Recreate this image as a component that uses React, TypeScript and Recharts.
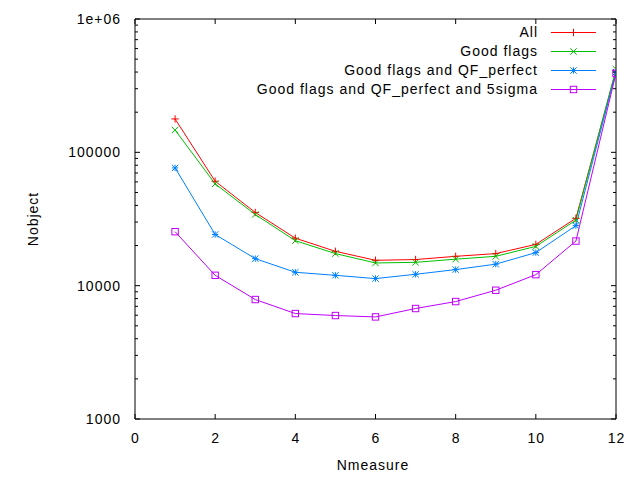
import React from "react";
import { Legend, Line, LineChart, XAxis, YAxis } from "recharts";

// ---- data ----
const nmeasure = [1, 2, 3, 4, 5, 6, 7, 8, 9, 10, 11, 12];
const allObjects = [178000, 60700, 35400, 22700, 18100, 15500, 15700, 16600, 17400, 20400, 32000, 410000];
const goodFlags = [147000, 58000, 34200, 21750, 17400, 14800, 14960, 15800, 16600, 19700, 31000, 420000];
const qfPerfect = [76400, 24200, 15950, 12600, 11960, 11300, 12170, 13200, 14500, 17700, 28200, 400000];
const fiveSigma = [25400, 11960, 7870, 6180, 5970, 5830, 6740, 7600, 9240, 12100, 21600, 392000];

const xTicks = [0, 2, 4, 6, 8, 10, 12];
const yMajor = [1000, 10000, 100000, 1000000];
const yMinor = [2, 3, 4, 5, 6, 7, 8, 9].flatMap((m) => [m * 1000, m * 10000, m * 100000]);
const yTicks = [...yMajor, ...yMinor].sort((a, b) => a - b);

const series = [
  { key: "all", name: "All", color: "#ff0000", marker: "plus" },
  { key: "good", name: "Good flags", color: "#00c000", marker: "cross" },
  { key: "qf", name: "Good flags and QF_perfect", color: "#0080ff", marker: "star" },
  { key: "sigma", name: "Good flags and QF_perfect and 5sigma", color: "#c000ff", marker: "square" },
];

const data = nmeasure.map((n, i) => ({
  n,
  all: allObjects[i],
  good: goodFlags[i],
  qf: qfPerfect[i],
  sigma: fiveSigma[i],
}));

const FONT = "'Liberation Sans', Arial, sans-serif";
const MAJOR = 5;
const MINOR = 3;

// gnuplot's png text: small glyphs, loose spacing
const textProps = { fontFamily: FONT, fontSize: 14, letterSpacing: 1, fill: "#000" };

function Marker({ kind, cx, cy, color }: { kind: string; cx: number; cy: number; color: string }) {
  const r = 3.2;
  const p = { stroke: color, strokeWidth: 1, fill: "none" };
  if (kind === "plus") {
    return (
      <g>
        <line x1={cx - r - 0.5} x2={cx + r + 0.5} y1={cy} y2={cy} {...p} />
        <line x1={cx} x2={cx} y1={cy - r - 0.5} y2={cy + r + 0.5} {...p} />
      </g>
    );
  }
  if (kind === "cross") {
    return (
      <g>
        <line x1={cx - r} x2={cx + r} y1={cy - r} y2={cy + r} {...p} />
        <line x1={cx - r} x2={cx + r} y1={cy + r} y2={cy - r} {...p} />
      </g>
    );
  }
  if (kind === "star") {
    return (
      <g>
        <line x1={cx - r} x2={cx + r} y1={cy} y2={cy} {...p} />
        <line x1={cx} x2={cx} y1={cy - r} y2={cy + r} {...p} />
        <line x1={cx - r} x2={cx + r} y1={cy - r} y2={cy + r} {...p} />
        <line x1={cx - r} x2={cx + r} y1={cy + r} y2={cy - r} {...p} />
      </g>
    );
  }
  return <rect x={cx - r} y={cy - r} width={2 * r} height={2 * r} {...p} />;
}

const isMajor = (v: number) => yMajor.includes(v);
const fmtY = (v: number) => (v === 1000000 ? "1e+06" : String(v));

// tick renderers: ticks point inward, like gnuplot
function LeftTick({ x, y, payload }: any) {
  const len = isMajor(payload.value) ? MAJOR : MINOR;
  return (
    <g>
      <line x1={x} x2={x + len} y1={y} y2={y} stroke="#000" />
      {isMajor(payload.value) && (
        <text x={x - 14} y={y} dy="0.35em" textAnchor="end" {...textProps}>
          {fmtY(payload.value)}
        </text>
      )}
    </g>
  );
}

function RightTick({ x, y, payload }: any) {
  const len = isMajor(payload.value) ? MAJOR : MINOR;
  return <line x1={x} x2={x - len} y1={y} y2={y} stroke="#000" />;
}

function BottomTick({ x, y, payload }: any) {
  return (
    <g>
      <line x1={x} x2={x} y1={y} y2={y - MAJOR} stroke="#000" />
      <text x={x + 0.5} y={y + 14} dy="0.71em" textAnchor="middle" {...textProps}>
        {payload.value}
      </text>
    </g>
  );
}

function TopTick({ x, y }: any) {
  return <line x1={x} x2={x} y1={y} y2={y + MAJOR} stroke="#000" />;
}

function GnuplotLegend() {
  return (
    <svg width={640} height={90} style={{ display: "block" }}>
      {series.map((s, i) => {
        const y = 9.5 + i * 19;
        return (
          <g key={s.key}>
            <text x={538} y={y} dy="0.35em" textAnchor="end" {...textProps}>
              {s.name}
            </text>
            <rect x={551} y={y - 0.5} width={45} height={1} fill={s.color} />
            <Marker kind={s.marker} cx={573.5} cy={y} color={s.color} />
          </g>
        );
      })}
    </svg>
  );
}

export default function App() {
  return (
    <div style={{ position: "absolute", left: 0, top: 0, width: 640, height: 480, background: "#fff" }}>
      <LineChart width={640} height={480} data={data} margin={{ top: 0, right: 0, bottom: 0, left: 0 }}>
        <XAxis
          dataKey="n"
          type="number"
          domain={[0, 12]}
          ticks={xTicks}
          interval={0}
          height={61}
          tickSize={0}
          tickMargin={0}
          tickLine={false}
          axisLine={{ stroke: "#000" }}
          tick={<BottomTick />}
          allowDataOverflow
          label={{
            content: ({ viewBox }: any) => (
              <text
                x={viewBox.x + viewBox.width / 2 - 2.5}
                y={viewBox.y + 46}
                dy="0.35em"
                textAnchor="middle"
                {...textProps}
              >
                Nmeasure
              </text>
            ),
          }}
        />
        <XAxis
          xAxisId="top"
          dataKey="n"
          orientation="top"
          type="number"
          domain={[0, 12]}
          ticks={xTicks}
          interval={0}
          height={19}
          tickSize={0}
          tickMargin={0}
          tickLine={false}
          axisLine={{ stroke: "#000" }}
          tick={<TopTick />}
          allowDataOverflow
        />
        <YAxis
          scale="log"
          type="number"
          domain={[1000, 1000000]}
          ticks={yTicks}
          interval={0}
          width={135}
          tickSize={0}
          tickMargin={0}
          tickLine={false}
          axisLine={{ stroke: "#000" }}
          tick={<LeftTick />}
          allowDataOverflow
          label={{
            content: ({ viewBox }: any) => {
              const cx = viewBox.x + 33;
              const cy = viewBox.y + viewBox.height / 2;
              return (
                <text
                  x={cx}
                  y={cy}
                  dy="0.35em"
                  textAnchor="middle"
                  transform={`rotate(-90 ${cx} ${cy})`}
                  {...textProps}
                >
                  Nobject
                </text>
              );
            },
          }}
        />
        <YAxis
          yAxisId="right"
          orientation="right"
          scale="log"
          type="number"
          domain={[1000, 1000000]}
          ticks={yTicks}
          interval={0}
          width={24}
          tickSize={0}
          tickMargin={0}
          tickLine={false}
          axisLine={{ stroke: "#000" }}
          tick={<RightTick />}
          allowDataOverflow
        />
        {/* centred + middle so the legend reserves no room in the plot offset */}
        <Legend
          layout="horizontal"
          verticalAlign="middle"
          align="center"
          content={<GnuplotLegend />}
          wrapperStyle={{ position: "absolute", top: 23, left: 0, width: 640, height: 90 }}
        />
        {/* invisible series that binds the mirrored top/right axes */}
        <Line
          xAxisId="top"
          yAxisId="right"
          dataKey="all"
          stroke="none"
          dot={false}
          activeDot={false}
          legendType="none"
          isAnimationActive={false}
        />
        {series.map((s) => (
          <Line
            key={s.key}
            dataKey={s.key}
            name={s.name}
            stroke={s.color}
            strokeWidth={1}
            isAnimationActive={false}
            dot={(props: any) => (
              <Marker key={`${s.key}-${props.index}`} kind={s.marker} cx={props.cx} cy={props.cy} color={s.color} />
            )}
            activeDot={false}
          />
        ))}
      </LineChart>
    </div>
  );
}
